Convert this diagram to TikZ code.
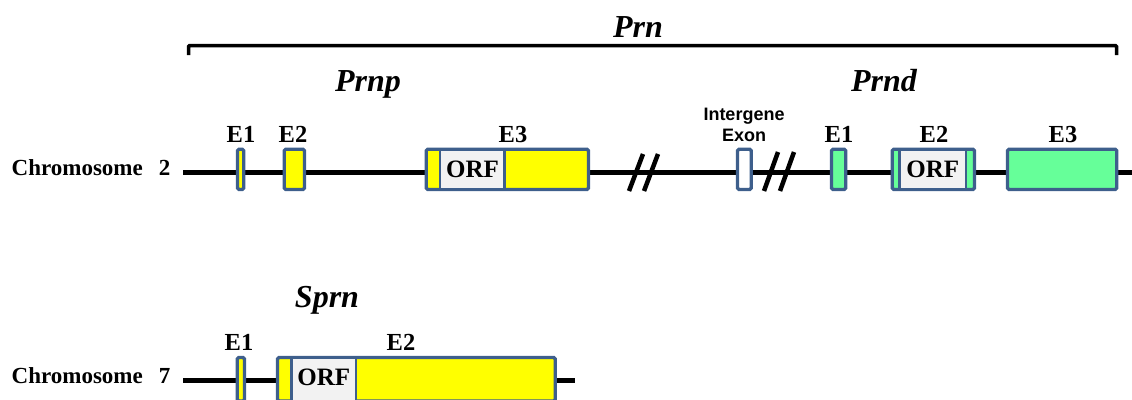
\documentclass[tikz,border=0pt]{standalone}
\usepackage{fontspec}
\setmainfont{Liberation Serif}
\newfontfamily\arialf{Liberation Sans}
\definecolor{exonblue}{HTML}{3E5F8C}
\definecolor{exyellow}{HTML}{FFFF00}
\definecolor{exgreen}{HTML}{66FF99}
\definecolor{orfgrey}{HTML}{F2F2F2}
\begin{document}
\begin{tikzpicture}[x=1pt,y=-1pt,
 exon/.style={draw=exonblue, line width=3.3pt, rounded corners=1.5pt, inner sep=0pt, outer sep=0pt},
 lbl/.style={font=\fontsize{24.5}{24.5}\selectfont\bfseries, anchor=base, inner sep=0pt},
 gene/.style={font=\fontsize{32}{32}\selectfont\bfseries\itshape, anchor=base, inner sep=0pt},
 chromlbl/.style={font=\fontsize{23}{23}\selectfont\bfseries, anchor=base west, inner sep=0pt},
 orf/.style={font=\fontsize{25}{25}\selectfont\bfseries, anchor=base, inner sep=0pt},
 iglbl/.style={font=\arialf\bfseries\fontsize{18}{18}\selectfont, anchor=base, inner sep=0pt},
 chrline/.style={line width=5pt},
 brkline/.style={line width=4.5pt},
 bracketline/.style={line width=3.5pt, rounded corners=1pt},
 divider/.style={draw=exonblue, line width=2.5pt},
 ]
\useasboundingbox (0,0) rectangle (1132,399);

% ---- bracket ----
\coordinate (brL) at (188.5,55);
\coordinate (brLt) at (188.5,45.5);
\coordinate (brRt) at (1116.5,45.5);
\coordinate (brR) at (1116.5,55);
\draw[bracketline] (brL) -- (brLt) -- (brRt) -- (brR);

% ---- gene names ----
\node[gene] (prn) at (638,37) {Prn};
\node[gene] (prnp) at (368,91) {Prnp};
\node[gene] (prnd) at (884,91) {Prnd};
\node[gene] (sprn) at (327,307) {Sprn};

% ---- chromosome 2 ----
\node[chromlbl] (ch2) at (11.5,175) {Chromosome\hspace{16pt}2};
\coordinate (c2s) at (183,172.5);
\coordinate (c2e) at (1132,172.5);
\draw[chrline] (c2s) -- (c2e);

% break marks
\coordinate (b1a1) at (629,191); \coordinate (b1a2) at (643,154);
\coordinate (b1b1) at (644,191); \coordinate (b1b2) at (658,154);
\coordinate (b2a1) at (764,191); \coordinate (b2a2) at (778,152);
\coordinate (b2b1) at (780,191); \coordinate (b2b2) at (794,152);
\draw[brkline] (b1a1) -- (b1a2);
\draw[brkline] (b1b1) -- (b1b2);
\draw[brkline] (b2a1) -- (b2a2);
\draw[brkline] (b2b1) -- (b2b2);

% Prnp exons
\node[exon, fill=exyellow, minimum width=6.3pt, minimum height=40.3pt] (pE1) at (240.6,169.35) {};
\node[exon, fill=exyellow, minimum width=20.3pt, minimum height=40.3pt] (pE2) at (294.35,169.35) {};
\node[exon, fill=exyellow, minimum width=162.3pt, minimum height=40.3pt] (pE3) at (507.35,169.35) {};
\fill[orfgrey] (440,150.9) rectangle (504.5,187.8);
\draw[divider] (440,149.2) -- (440,189.5);
\draw[divider] (504.5,149.2) -- (504.5,189.5);
\node[orf] (pORF) at (472.5,177) {ORF};

% intergene exon
\node[exon, fill=white, minimum width=13.7pt, minimum height=40.3pt] (igE) at (744.35,169.35) {};
\node[iglbl] (ig1) at (744,120) {Intergene};
\node[iglbl] (ig2) at (744,141) {Exon};

% Prnd exons
\node[exon, fill=exgreen, minimum width=14.3pt, minimum height=40.3pt] (dE1) at (838.65,169.35) {};
\node[exon, fill=exgreen, minimum width=82.3pt, minimum height=40.3pt] (dE2) at (933.35,169.35) {};
\fill[orfgrey] (899.5,150.9) rectangle (966,187.8);
\draw[divider] (899.5,149.2) -- (899.5,189.5);
\draw[divider] (966,149.2) -- (966,189.5);
\node[orf] (dORF) at (932.7,177) {ORF};
\node[exon, fill=exgreen, minimum width=109.3pt, minimum height=40.3pt] (dE3) at (1062.15,169.35) {};

% exon labels chr 2
\node[lbl] (lpE1) at (241,142.7) {E1};
\node[lbl] (lpE2) at (293,142.7) {E2};
\node[lbl] (lpE3) at (513,142.7) {E3};
\node[lbl] (ldE1) at (839,142.7) {E1};
\node[lbl] (ldE2) at (934,142.7) {E2};
\node[lbl] (ldE3) at (1063,142.7) {E3};

% ---- chromosome 7 ----
\node[chromlbl] (ch7) at (11.5,383) {Chromosome\hspace{16pt}7};
\coordinate (c7s) at (183,380.5);
\coordinate (c7e) at (575,380.5);
\draw[chrline] (c7s) -- (c7e);

\node[exon, fill=exyellow, minimum width=7.3pt, minimum height=43.5pt] (sE1) at (240.85,379.25) {};
\node[exon, fill=exyellow, minimum width=277.7pt, minimum height=43.5pt] (sE2) at (416.35,379.25) {};
\fill[orfgrey] (291.5,359.2) rectangle (356,399.5);
\draw[divider] (291.5,357.5) -- (291.5,401);
\draw[divider] (356,357.5) -- (356,401);
\node[orf] (sORF) at (323.7,385) {ORF};

\node[lbl] (lsE1) at (239,350) {E1};
\node[lbl] (lsE2) at (401,350) {E2};
\end{tikzpicture}
\end{document}
